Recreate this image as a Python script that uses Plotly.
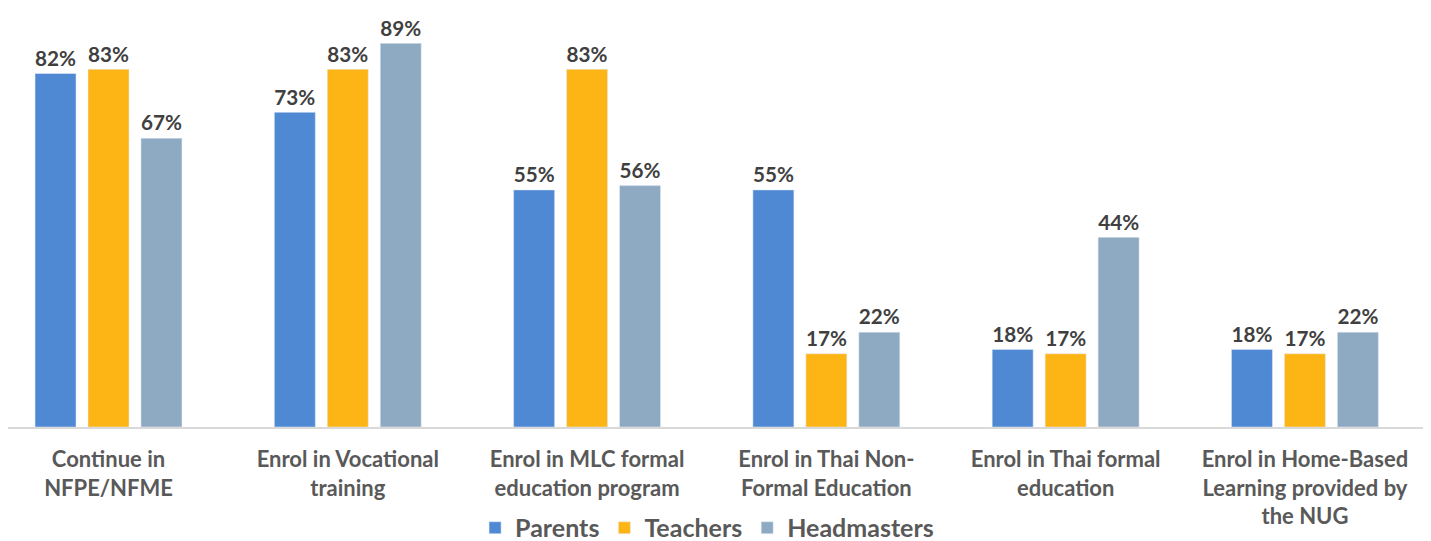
import plotly.graph_objects as go

CATEGORIES = [
    'Continue in<br>NFPE/NFME',
    'Enrol in Vocational<br>training',
    'Enrol in MLC formal<br>education program',
    'Enrol in Thai Non-<br>Formal Education',
    'Enrol in Thai formal<br>education',
    'Enrol in Home-Based<br>Learning provided by<br>the NUG',
]
PARENTS = [82, 73, 55, 55, 18, 18]
TEACHERS = [83, 83, 83, 17, 17, 17]
HEADMASTERS = [67, 89, 56, 22, 44, 22]

SERIES = [
    ('Parents', PARENTS, '#5089d3'),
    ('Teachers', TEACHERS, '#fdb515'),
    ('Headmasters', HEADMASTERS, '#8eaac3'),
]

FONT = 'Lato'
TEXT_COLOR = '#404040'

fig = go.Figure()
for name, vals, color in SERIES:
    fig.add_trace(go.Bar(
        x=CATEGORIES, y=vals, name=name, marker_color=color,
        texttemplate='%{y}%', textposition='outside',
        textfont=dict(family=FONT, size=22, color=TEXT_COLOR, weight='bold'),
        cliponaxis=False,
    ))

# page has an 8px body margin; figure is a bit taller than the window so the
# legend never pushes the bottom margin (the overflow is just off-screen)
fig.update_layout(
    width=1423, height=560,
    barmode='group', bargap=0.336, bargroupgap=0.226,
    plot_bgcolor='white', paper_bgcolor='white',
    margin=dict(l=0, r=5, t=0, b=141),
    font=dict(family=FONT, color='#595959'),
    xaxis=dict(
        range=[-0.42, 5.506],
        showline=True, linecolor='#d9d9d9', linewidth=1.5,
        ticks='', ticklabelstandoff=12, automargin=False,
        tickfont=dict(family=FONT, size=22, color='#595959', weight='bold'),
    ),
    yaxis=dict(range=[0, 97.2], visible=False),
    legend=dict(
        orientation='h', x=0.493, xanchor='center', y=-0.241, yanchor='middle',
        font=dict(family=FONT, size=25, color='#595959', weight='bold'),
        itemwidth=30, bgcolor='rgba(0,0,0,0)',
    ),
    showlegend=True,
)

fig.write_html('out.html')
